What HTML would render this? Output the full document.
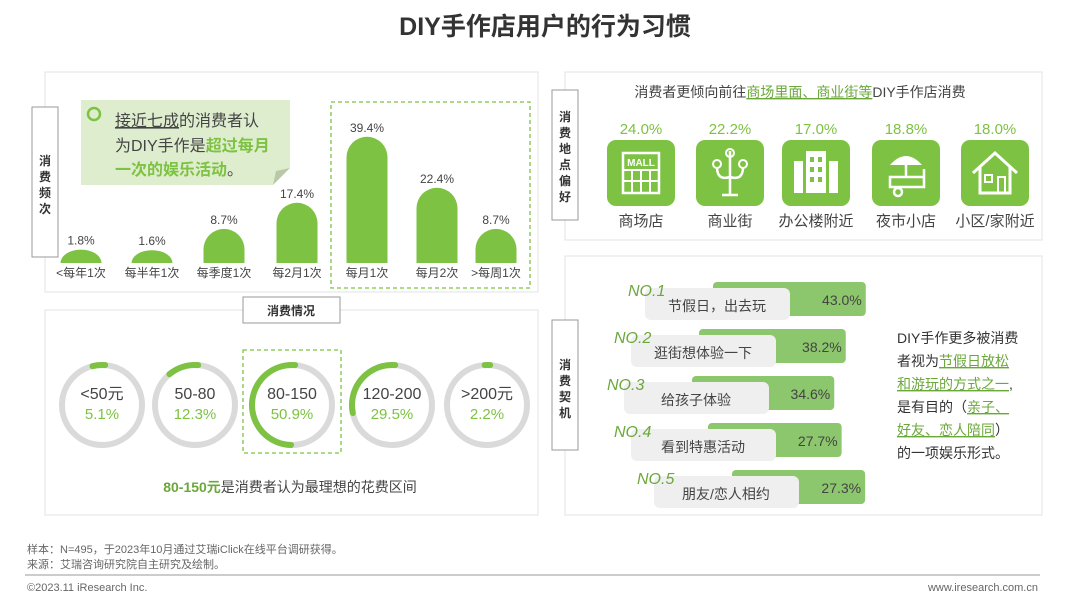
<!DOCTYPE html>
<html><head><meta charset="utf-8">
<style>
html,body{margin:0;padding:0;background:#fff;}
svg{display:block;font-family:"Liberation Sans","Noto Sans CJK SC",sans-serif;}
</style></head>
<body>
<svg id="s" width="1080" height="608" viewBox="0 0 1080 608" xmlns="http://www.w3.org/2000/svg">
<text x="545" y="35" text-anchor="middle" font-size="25" font-weight="bold" fill="#333">DIY手作店用户的行为习惯</text>

<rect x="45" y="72" width="493" height="220" fill="#fff" stroke="#e3e3e3"/>
<rect x="45" y="310" width="493" height="205" fill="#fff" stroke="#e3e3e3"/>
<rect x="565" y="72" width="477" height="168" fill="#fff" stroke="#e3e3e3"/>
<rect x="565" y="256" width="477" height="259" fill="#fff" stroke="#e3e3e3"/>

<g>
<rect x="32" y="107" width="26" height="150" fill="#fff" stroke="#999"/>
<text x="45" y="165" text-anchor="middle" font-size="12" font-weight="bold" fill="#333">消</text>
<text x="45" y="181" text-anchor="middle" font-size="12" font-weight="bold" fill="#333">费</text>
<text x="45" y="197" text-anchor="middle" font-size="12" font-weight="bold" fill="#333">频</text>
<text x="45" y="213" text-anchor="middle" font-size="12" font-weight="bold" fill="#333">次</text>
</g>
<g>
<rect x="552" y="90" width="26" height="130" fill="#fff" stroke="#999"/>
<text x="565" y="121" text-anchor="middle" font-size="12" font-weight="bold" fill="#333">消</text>
<text x="565" y="137" text-anchor="middle" font-size="12" font-weight="bold" fill="#333">费</text>
<text x="565" y="153" text-anchor="middle" font-size="12" font-weight="bold" fill="#333">地</text>
<text x="565" y="169" text-anchor="middle" font-size="12" font-weight="bold" fill="#333">点</text>
<text x="565" y="185" text-anchor="middle" font-size="12" font-weight="bold" fill="#333">偏</text>
<text x="565" y="201" text-anchor="middle" font-size="12" font-weight="bold" fill="#333">好</text>
</g>
<g>
<rect x="552" y="320" width="26" height="130" fill="#fff" stroke="#999"/>
<text x="565" y="369" text-anchor="middle" font-size="12" font-weight="bold" fill="#333">消</text>
<text x="565" y="385" text-anchor="middle" font-size="12" font-weight="bold" fill="#333">费</text>
<text x="565" y="401" text-anchor="middle" font-size="12" font-weight="bold" fill="#333">契</text>
<text x="565" y="417" text-anchor="middle" font-size="12" font-weight="bold" fill="#333">机</text>
</g>
<g>
<rect x="243" y="297" width="97" height="26" fill="#fff" stroke="#999"/>
<text x="291" y="315" text-anchor="middle" font-size="12" font-weight="bold" fill="#333">消费情况</text>
</g>

<g>
<path d="M81 100 H290 V168 L273 185 H81 Z" fill="#dfedcf"/>
<path d="M273 185 L276 171 L290 168 Z" fill="#b9c9a8"/>
<circle cx="94" cy="114" r="6" fill="none" stroke="#7dc242" stroke-width="2.5"/>
<text x="115" y="126" font-size="16" fill="#444"><tspan text-decoration="underline">接近七成</tspan>的消费者认</text>
<text x="115" y="151" font-size="16" fill="#444">为DIY手作是<tspan fill="#7dc242" font-weight="bold">超过每月</tspan></text>
<text x="115" y="175" font-size="16" fill="#7dc242" font-weight="bold">一次的娱乐活动<tspan fill="#444" font-weight="normal">。</tspan></text>
</g>
<rect x="331" y="102" width="199" height="186" fill="none" stroke="#7dc242" stroke-dasharray="4,3" stroke-width="1.3"/>
<rect x="243" y="350" width="98" height="103" fill="none" stroke="#7dc242" stroke-dasharray="4,3" stroke-width="1.3"/>
<g id="freq"></g>
<g id="rings"></g>
<text x="290" y="492" text-anchor="middle" font-size="14" fill="#444"><tspan fill="#6aa83a" font-weight="bold">80-150元</tspan>是消费者认为最理想的花费区间</text>

<text x="800" y="97" text-anchor="middle" font-size="14" fill="#444">消费者更倾向前往<tspan fill="#6aa83a" text-decoration="underline">商场里面、商业街等</tspan>DIY手作店消费</text>
<g id="loc"></g>
<g id="mot"></g>

<g font-size="14" fill="#333">
<text x="897" y="343">DIY手作更多被消费</text>
<text x="897" y="366">者视为<tspan fill="#6aa83a" text-decoration="underline">节假日放松</tspan></text>
<text x="897" y="389"><tspan fill="#6aa83a" text-decoration="underline">和游玩的方式之一</tspan>,</text>
<text x="897" y="412">是有目的（<tspan fill="#6aa83a" text-decoration="underline">亲子、</tspan></text>
<text x="897" y="435"><tspan fill="#6aa83a" text-decoration="underline">好友、恋人陪同</tspan>）</text>
<text x="897" y="458">的一项娱乐形式。</text>
</g>

<g fill="#666" font-size="11">
<text x="27" y="553">样本：N=495，于2023年10月通过艾瑞iClick在线平台调研获得。</text>
<text x="27" y="568">来源：艾瑞咨询研究院自主研究及绘制。</text>
<line x1="25" y1="575" x2="1040" y2="575" stroke="#999" stroke-width="1"/>
<text x="27" y="591">©2023.11 iResearch Inc.</text>
<text x="1038" y="591" text-anchor="end">www.iresearch.com.cn</text>
</g>
</svg>
<script>
const freqCats=['<每年1次','每半年1次','每季度1次','每2月1次','每月1次','每月2次','>每周1次'];
const freqVals=[1.8,1.6,8.7,17.4,39.4,22.4,8.7];
const ringCats=['<50元','50-80','80-150','120-200','>200元'];
const ringVals=[5.1,12.3,50.9,29.5,2.2];
const locCats=['商场店','商业街','办公楼附近','夜市小店','小区/家附近'];
const locVals=[24.0,22.2,17.0,18.8,18.0];
const motCats=['节假日，出去玩','逛街想体验一下','给孩子体验','看到特惠活动','朋友/恋人相约'];
const motRanks=['NO.1','NO.2','NO.3','NO.4','NO.5'];
const motVals=[43.0,38.2,34.6,27.7,27.3];

const NS='http://www.w3.org/2000/svg';
function mk(tag,attrs,parent){const e=document.createElementNS(NS,tag);for(const k in attrs)e.setAttribute(k,attrs[k]);parent.appendChild(e);return e;}
const G='#7dc242';

const fg=document.getElementById('freq');
const fCx=[81,152,224,297,367,437,496];
const base=263;
function yH(v){return v*3.0+8;}
freqVals.forEach((v,i)=>{
  const h=yH(v),w=41,x=fCx[i]-w/2,r=w/2,ry=Math.min(r,h);
  const p=mk('path',{d:`M${x} ${base} V${base-h+ry} A${r} ${ry} 0 0 1 ${x+w} ${base-h+ry} V${base} Z`,fill:G},fg);
  
  
  const t=mk('text',{x:fCx[i],y:base-h-5,'text-anchor':'middle','font-size':12,fill:'#444'},fg);t.textContent=v.toFixed(1)+'%';
  
  
  const l=mk('text',{x:fCx[i],y:base+14,'text-anchor':'middle','font-size':12,fill:'#444'},fg);l.textContent=freqCats[i];
  
  
});

const rg=document.getElementById('rings');
const rCx=[102,195,292,392,487],rCy=405,R=40;
ringVals.forEach((v,i)=>{
  const c=mk('circle',{cx:rCx[i],cy:rCy,r:R,fill:'none',stroke:'#dadada','stroke-width':6},rg);
  
  
  const start=-Math.PI/2+0.08, a=v/100*2*Math.PI, end=start-a;
  const x1=rCx[i]+R*Math.cos(start),y1=rCy+R*Math.sin(start),x2=rCx[i]+R*Math.cos(end),y2=rCy+R*Math.sin(end);
  const arc=mk('path',{d:`M${x1} ${y1} A${R} ${R} 0 ${a>Math.PI?1:0} 0 ${x2} ${y2}`,fill:'none',stroke:G,'stroke-width':6,'stroke-linecap':'round'},rg);
  
  
  const t=mk('text',{x:rCx[i],y:rCy-6,'text-anchor':'middle','font-size':16,fill:'#444'},rg);t.textContent=ringCats[i];
  
  
  const p=mk('text',{x:rCx[i],y:rCy+14,'text-anchor':'middle','font-size':15,fill:'#7dc242'},rg);p.textContent=v.toFixed(1)+'%';
  
  
});

const lg=document.getElementById('loc');
const lCx=[641,730,816,906,995];
const icons=[
 '<rect x="-18" y="-20" width="36" height="40" fill="none" stroke="#fff" stroke-width="2.5"/><text x="0" y="-7" text-anchor="middle" font-size="10" fill="#fff" font-weight="bold">MALL</text><path d="M-18 -3H18M-18 8H18M-9 -3V20M0 -3V20M9 -3V20" stroke="#fff" stroke-width="2"/>',
 '<path d="M0 -22V22M-8 22H8M-13 -6Q-13 8 0 4Q13 8 13 -6" stroke="#fff" stroke-width="2.5" fill="none"/><circle cx="0" cy="-20" r="4" fill="none" stroke="#fff" stroke-width="2"/><circle cx="-13" cy="-9" r="4" fill="none" stroke="#fff" stroke-width="2"/><circle cx="13" cy="-9" r="4" fill="none" stroke="#fff" stroke-width="2"/>',
 '<rect x="-22" y="-12" width="9" height="32" fill="#fff"/><rect x="-10" y="-22" width="20" height="42" fill="#fff"/><rect x="13" y="-12" width="9" height="32" fill="#fff"/><path d="M-6 -16h4v5h-4zM2 -16h4v5h-4zM-6 -6h4v5h-4zM2 -6h4v5h-4zM-6 4h4v5h-4zM2 4h4v5h-4z" fill="#7dc242"/>',
 '<path d="M-16 -8Q0 -26 16 -8Z" fill="#fff"/><path d="M0 -8V4M-16 4H18V14H-16ZM18 4V-4" stroke="#fff" stroke-width="2.5" fill="none"/><circle cx="-8" cy="19" r="4" fill="none" stroke="#fff" stroke-width="2.5"/>',
 '<path d="M-22 0L0 -20L22 0M-15 -6V20H15V-6" stroke="#fff" stroke-width="3" fill="none"/><rect x="-10" y="2" width="7" height="7" fill="none" stroke="#fff" stroke-width="2"/><rect x="3" y="4" width="7" height="16" fill="none" stroke="#fff" stroke-width="2"/>'
];
locVals.forEach((v,i)=>{
  const t=mk('text',{x:lCx[i],y:134,'text-anchor':'middle','font-size':15,fill:'#7dc242'},lg);t.textContent=v.toFixed(1)+'%';
  
  
  const g=mk('g',{transform:`translate(${lCx[i]},173)`},lg);
  
  
  mk('rect',{x:-34,y:-33,width:68,height:66,rx:9,fill:G},g);
  g.insertAdjacentHTML('beforeend',icons[i]);
  const l=mk('text',{x:lCx[i],y:226,'text-anchor':'middle','font-size':15,fill:'#444'},lg);l.textContent=locCats[i];
  
  
});

const mg=document.getElementById('mot');
const mOff=[0,-14,-21,-14,9];
const gOff=[0,-14,-21,-5,19];
motVals.forEach((v,i)=>{
  const y=282+i*47,o=mOff[i];
  const gx=713+gOff[i], gw=v*1.25+99;
  const b=mk('rect',{x:gx,y:y,width:gw,height:34,rx:4,fill:'#8cc66d'},mg);
  
  
  const pill=mk('rect',{x:645+o,y:y+6,width:145,height:32,rx:6,fill:'#efefef'},mg);
  
  
  const n=mk('text',{x:628+o,y:y+14,'font-size':16,'font-style':'italic',fill:'#6aa83a'},mg);n.textContent=motRanks[i];
  
  
  const l=mk('text',{x:717+o,y:y+29,'text-anchor':'middle','font-size':14,fill:'#444'},mg);l.textContent=motCats[i];
  
  
  const p=mk('text',{x:gx+gw-4,y:y+23,'text-anchor':'end','font-size':14,fill:'#444'},mg);p.textContent=v.toFixed(1)+'%';
  
  
});
</script>
</body></html>
